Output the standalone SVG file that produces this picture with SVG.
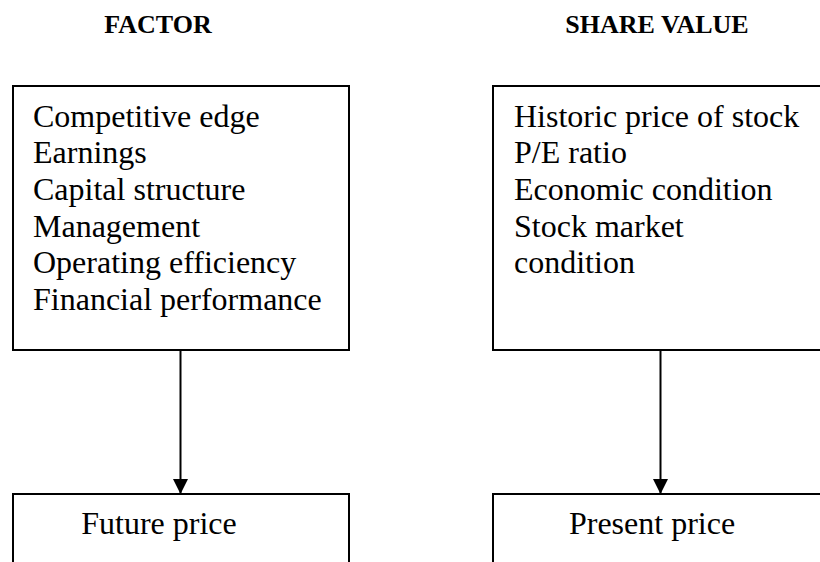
<svg xmlns="http://www.w3.org/2000/svg" width="820" height="562" viewBox="0 0 820 562">
  <style>
    .box { fill: #ffffff; stroke: #000000; stroke-width: 2; }
    .body { font-family: "Liberation Serif", "Times New Roman", serif; font-size: 32px; fill: #000000; }
    .head { font-family: "Liberation Serif", "Times New Roman", serif; font-size: 26px; font-weight: bold; fill: #000000; text-anchor: middle; }
    .mid { text-anchor: middle; }
    .link { fill: none; stroke: #000000; stroke-width: 2; }
  </style>
  <defs>
    <marker id="arrow" markerUnits="userSpaceOnUse" markerWidth="16" markerHeight="16" viewBox="0 0 16 16" refX="15" refY="8" orient="auto">
      <path d="M0,0.5 L15,8 L0,15.5 Z" fill="#000000"/>
    </marker>
  </defs>
  <rect width="820" height="562" fill="#ffffff"/>

  <!-- column headings -->
  <text class="head" x="158" y="33">FACTOR</text>
  <text class="head" x="657" y="33">SHARE VALUE</text>

  <g id="factors">
    <rect class="box" x="13" y="86" width="336" height="264"/>
    <text class="body" x="33" y="127">Competitive edge</text>
    <text class="body" x="33" y="163">Earnings</text>
    <text class="body" x="33" y="200">Capital structure</text>
    <text class="body" x="33" y="237">Management</text>
    <text class="body" x="33" y="273">Operating efficiency</text>
    <text class="body" x="33" y="310">Financial performance</text>
  </g>

  <g id="share-value">
    <rect class="box" x="493" y="86" width="340" height="264"/>
    <text class="body" x="514" y="127">Historic price of stock</text>
    <text class="body" x="514" y="163">P/E ratio</text>
    <text class="body" x="514" y="200">Economic condition</text>
    <text class="body" x="514" y="237">Stock market</text>
    <text class="body" x="514" y="273">condition</text>
  </g>

  <g id="future-price">
    <rect class="box" x="13" y="494" width="336" height="90"/>
    <text class="body mid" x="159" y="534">Future price</text>
  </g>

  <g id="present-price">
    <rect class="box" x="493" y="494" width="340" height="90"/>
    <text class="body mid" x="652" y="534">Present price</text>
  </g>

  <g id="connectors">
    <line class="link" x1="180.5" y1="350" x2="180.5" y2="494" marker-end="url(#arrow)"/>
    <line class="link" x1="660.5" y1="350" x2="660.5" y2="494" marker-end="url(#arrow)"/>
  </g>
</svg>
